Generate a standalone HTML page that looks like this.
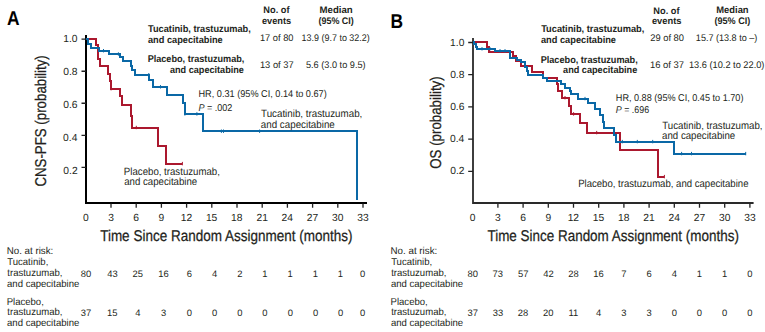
<!DOCTYPE html>
<html><head><meta charset="utf-8"><title>KM curves</title>
<style>
html,body{margin:0;padding:0;background:#fff;}
body{width:765px;height:332px;overflow:hidden;}
svg{display:block;font-family:"Liberation Sans",sans-serif;text-rendering:geometricPrecision;}
</style></head>
<body>
<svg width="765" height="332" viewBox="0 0 765 332">
<rect width="765" height="332" fill="#fff"/>
<path d="M86,35 V203 H367" fill="none" stroke="#000" stroke-width="2" stroke-linejoin="miter"/>
<path d="M473,38 V203 H753.6" fill="none" stroke="#2a2a2a" stroke-width="1.8" stroke-linejoin="miter"/>
<path d="M81.5,39.20 H86 M468.2,42.50 H473 M81.5,71.23 H86 M468.2,74.70 H473 M81.5,103.26 H86 M468.2,106.90 H473 M81.5,135.29 H86 M468.2,139.10 H473 M81.5,167.32 H86 M468.2,171.30 H473 M111.00,203.5 V207.8 M497.90,203.5 V207.8 M136.20,203.5 V207.8 M523.10,203.5 V207.8 M161.40,203.5 V207.8 M548.30,203.5 V207.8 M186.60,203.5 V207.8 M573.50,203.5 V207.8 M211.80,203.5 V207.8 M598.70,203.5 V207.8 M237.00,203.5 V207.8 M623.90,203.5 V207.8 M262.20,203.5 V207.8 M649.10,203.5 V207.8 M287.40,203.5 V207.8 M674.30,203.5 V207.8 M312.60,203.5 V207.8 M699.50,203.5 V207.8 M337.80,203.5 V207.8 M724.70,203.5 V207.8 M363.00,203.5 V207.8 M749.90,203.5 V207.8" fill="none" stroke="#222" stroke-width="1.3"/>
<path d="M86,39 H96 V45 H98 V59 H100 V66 H108 V74 H110 V81 H111 V89 H120 V96 H122 V105 H131 V116 H132 V128 H158 V146 H166 V164 H182" fill="none" stroke="#ab182e" stroke-width="2"/>
<path d="M111.1,87.0 V90.4 M136.3,125.8 V129.2 M182.4,161.9 V165.3" fill="none" stroke="#ab182e" stroke-width="1"/>
<path d="M86,39 H88 V44 H91 V48 H99 V51 H109 V54 H120 V57 H123 V61 H131 V66 H132 V70 H135 V75 H149 V80 H153 V87 H167 V95 H183 V103 H185 V114 H203 V131 H357 V200" fill="none" stroke="#0a68a6" stroke-width="2"/>
<path d="M103.5,49.0 V52.4 M118.4,52.3 V55.7 M148.8,73.0 V76.4 M160.5,85.1 V88.5 M184.9,112.2 V115.6 M196.9,112.2 V115.6 M221.4,129.5 V132.9 M223.5,129.5 V132.9 M259.6,129.5 V132.9" fill="none" stroke="#0a68a6" stroke-width="1"/>
<path d="M473,42 H487 V47 H489 V52 H513 V56 H516 V61 H521 V66 H532 V72 H543 V78 H557 V84 H558 V91 H562 V98 H569 V106 H571 V114 H580 V123 H587 V133 H620 V150 H658 V177 H664" fill="none" stroke="#ab182e" stroke-width="2"/>
<path d="M565,96.0 V99.4 M573.6,112.2 V115.6 M596.7,130.9 V134.3 M664.4,174.9 V178.3" fill="none" stroke="#ab182e" stroke-width="1"/>
<path d="M473,42 H474 V44 H476 V47 H477 V49 H495 V51 H510 V58 H517 V60 H521 V62 H525 V67 H527 V71 H528 V75 H543 V78 H547 V81 H561 V84 H565 V88 H570 V91 H571 V94 H578 V99 H588 V103 H595 V109 H600 V115 H603 V122 H604 V128 H614 V135 H616 V142 H674 V154 H746" fill="none" stroke="#0a68a6" stroke-width="2"/>
<path d="M482,47.1 V50.5 M490,47.1 V50.5 M500,49.1 V52.5 M505,49.1 V52.5 M585,96.9 V100.3 M622.3,139.9 V143.3 M637.3,139.9 V143.3 M652.7,139.9 V143.3 M681.6,151.9 V155.3 M691.5,151.9 V155.3 M745.7,151.9 V155.3" fill="none" stroke="#0a68a6" stroke-width="1"/>
<text x="7.01" y="24.60" font-size="20" font-weight="bold" fill="#000" textLength="12.59" lengthAdjust="spacingAndGlyphs">A</text>
<text x="390.39" y="28.00" font-size="20" font-weight="bold" fill="#000" textLength="12.55" lengthAdjust="spacingAndGlyphs">B</text>
<text x="263.33" y="13.40" font-size="9.6" font-weight="bold" fill="#231f20" textLength="26.20" lengthAdjust="spacingAndGlyphs">No. of</text>
<text x="261.89" y="23.50" font-size="9.6" font-weight="bold" fill="#231f20" textLength="29.24" lengthAdjust="spacingAndGlyphs">events</text>
<text x="319.50" y="13.40" font-size="9.6" font-weight="bold" fill="#231f20" textLength="33.24" lengthAdjust="spacingAndGlyphs">Median</text>
<text x="318.50" y="23.50" font-size="9.6" font-weight="bold" fill="#231f20" textLength="35.30" lengthAdjust="spacingAndGlyphs">(95% CI)</text>
<text x="653.33" y="13.60" font-size="9.6" font-weight="bold" fill="#231f20" textLength="26.20" lengthAdjust="spacingAndGlyphs">No. of</text>
<text x="651.89" y="23.80" font-size="9.6" font-weight="bold" fill="#231f20" textLength="29.65" lengthAdjust="spacingAndGlyphs">events</text>
<text x="716.22" y="13.40" font-size="9.6" font-weight="bold" fill="#231f20" textLength="32.41" lengthAdjust="spacingAndGlyphs">Median</text>
<text x="714.50" y="23.50" font-size="9.6" font-weight="bold" fill="#231f20" textLength="35.81" lengthAdjust="spacingAndGlyphs">(95% CI)</text>
<text x="148.05" y="31.90" font-size="9.8" font-weight="bold" fill="#231f20" textLength="102.72" lengthAdjust="spacingAndGlyphs">Tucatinib, trastuzumab,</text>
<text x="147.98" y="42.80" font-size="9.8" font-weight="bold" fill="#231f20" textLength="74.75" lengthAdjust="spacingAndGlyphs">and capecitabine</text>
<text x="147.64" y="62.20" font-size="9.8" font-weight="bold" fill="#231f20" textLength="96.72" lengthAdjust="spacingAndGlyphs">Placebo, trastuzumab,</text>
<text x="169.97" y="72.50" font-size="9.8" font-weight="bold" fill="#231f20" textLength="73.94" lengthAdjust="spacingAndGlyphs">and capecitabine</text>
<text x="541.15" y="32.40" font-size="9.8" font-weight="bold" fill="#231f20" textLength="103.12" lengthAdjust="spacingAndGlyphs">Tucatinib, trastuzumab,</text>
<text x="540.98" y="42.90" font-size="9.8" font-weight="bold" fill="#231f20" textLength="75.05" lengthAdjust="spacingAndGlyphs">and capecitabine</text>
<text x="540.64" y="63.00" font-size="9.8" font-weight="bold" fill="#231f20" textLength="97.12" lengthAdjust="spacingAndGlyphs">Placebo, trastuzumab,</text>
<text x="563.06" y="72.80" font-size="9.8" font-weight="bold" fill="#231f20" textLength="74.25" lengthAdjust="spacingAndGlyphs">and capecitabine</text>
<text x="259.94" y="41.00" font-size="9.6" fill="#231f20" textLength="33.57" lengthAdjust="spacingAndGlyphs">17 of 80</text>
<text x="301.57" y="40.90" font-size="9.6" fill="#231f20" textLength="68.24" lengthAdjust="spacingAndGlyphs">13.9 (9.7 to 32.2)</text>
<text x="259.94" y="67.60" font-size="9.6" fill="#231f20" textLength="33.68" lengthAdjust="spacingAndGlyphs">13 of 37</text>
<text x="305.98" y="67.60" font-size="9.6" fill="#231f20" textLength="59.63" lengthAdjust="spacingAndGlyphs">5.6 (3.0 to 9.5)</text>
<text x="650.18" y="41.00" font-size="9.6" fill="#231f20" textLength="33.84" lengthAdjust="spacingAndGlyphs">29 of 80</text>
<text x="695.86" y="40.80" font-size="9.6" fill="#231f20" textLength="61.45" lengthAdjust="spacingAndGlyphs">15.7 (13.8 to –)</text>
<text x="649.93" y="68.10" font-size="9.6" fill="#231f20" textLength="34.19" lengthAdjust="spacingAndGlyphs">16 of 37</text>
<text x="688.95" y="68.00" font-size="9.6" fill="#231f20" textLength="75.48" lengthAdjust="spacingAndGlyphs">13.6 (10.2 to 22.0)</text>
<text x="198.50" y="97.30" font-size="9.9" fill="#231f20" textLength="128.22" lengthAdjust="spacingAndGlyphs">HR, 0.31 (95% CI, 0.14 to 0.67)</text>
<text x="198.51" y="110.90" font-size="9.9" fill="#231f20" textLength="33.90" lengthAdjust="spacingAndGlyphs"><tspan font-style="italic">P</tspan> = .002</text>
<text x="615.80" y="101.00" font-size="9.9" fill="#231f20" textLength="127.62" lengthAdjust="spacingAndGlyphs">HR, 0.88 (95% CI, 0.45 to 1.70)</text>
<text x="615.82" y="113.10" font-size="9.9" fill="#231f20" textLength="33.32" lengthAdjust="spacingAndGlyphs"><tspan font-style="italic">P</tspan> = .696</text>
<text x="261.03" y="116.50" font-size="10.5" fill="#231f20" textLength="101.29" lengthAdjust="spacingAndGlyphs">Tucatinib, trastuzumab,</text>
<text x="260.84" y="127.50" font-size="10.5" fill="#231f20" textLength="73.95" lengthAdjust="spacingAndGlyphs">and capecitabine</text>
<text x="123.86" y="174.90" font-size="10.5" fill="#231f20" textLength="96.06" lengthAdjust="spacingAndGlyphs">Placebo, trastuzumab,</text>
<text x="124.24" y="185.30" font-size="10.5" fill="#231f20" textLength="73.00" lengthAdjust="spacingAndGlyphs">and capecitabine</text>
<text x="662.24" y="128.50" font-size="10.5" fill="#231f20" textLength="100.28" lengthAdjust="spacingAndGlyphs">Tucatinib, trastuzumab,</text>
<text x="662.04" y="138.70" font-size="10.5" fill="#231f20" textLength="73.22" lengthAdjust="spacingAndGlyphs">and capecitabine</text>
<text x="578.16" y="187.40" font-size="10.5" fill="#231f20" textLength="170.31" lengthAdjust="spacingAndGlyphs">Placebo, trastuzumab, and capecitabine</text>
<text x="100.15" y="241.00" font-size="15.6" fill="#231f20" stroke="#231f20" stroke-width="0.25" textLength="252.24" lengthAdjust="spacingAndGlyphs">Time Since Random Assignment (months)</text>
<text x="487.45" y="241.00" font-size="15.6" fill="#231f20" stroke="#231f20" stroke-width="0.25" textLength="251.44" lengthAdjust="spacingAndGlyphs">Time Since Random Assignment (months)</text>
<text transform="translate(45.60,186.20) rotate(-90)" x="-0.43" y="0" font-size="15.6" fill="#231f20" stroke="#231f20" stroke-width="0.25" textLength="131.40" lengthAdjust="spacingAndGlyphs">CNS-PFS (probability)</text>
<text transform="translate(441.00,168.40) rotate(-90)" x="-0.38" y="0" font-size="15.6" fill="#231f20" stroke="#231f20" stroke-width="0.25" textLength="92.45" lengthAdjust="spacingAndGlyphs">OS (probability)</text>
<text x="63.18" y="42.10" font-size="10.3" fill="#231f20" textLength="14.32" lengthAdjust="spacingAndGlyphs">1.0</text>
<text x="450.08" y="46.00" font-size="10.3" fill="#231f20" textLength="14.32" lengthAdjust="spacingAndGlyphs">1.0</text>
<text x="63.23" y="75.05" font-size="10.3" fill="#231f20" textLength="14.32" lengthAdjust="spacingAndGlyphs">0.8</text>
<text x="450.13" y="78.05" font-size="10.3" fill="#231f20" textLength="14.32" lengthAdjust="spacingAndGlyphs">0.8</text>
<text x="63.24" y="108.00" font-size="10.3" fill="#231f20" textLength="14.32" lengthAdjust="spacingAndGlyphs">0.6</text>
<text x="450.14" y="110.10" font-size="10.3" fill="#231f20" textLength="14.32" lengthAdjust="spacingAndGlyphs">0.6</text>
<text x="63.08" y="140.95" font-size="10.3" fill="#231f20" textLength="14.32" lengthAdjust="spacingAndGlyphs">0.4</text>
<text x="449.98" y="142.15" font-size="10.3" fill="#231f20" textLength="14.32" lengthAdjust="spacingAndGlyphs">0.4</text>
<text x="63.30" y="173.90" font-size="10.3" fill="#231f20" textLength="14.32" lengthAdjust="spacingAndGlyphs">0.2</text>
<text x="450.20" y="174.20" font-size="10.3" fill="#231f20" textLength="14.32" lengthAdjust="spacingAndGlyphs">0.2</text>
<text x="82.94" y="221.00" font-size="10.3" fill="#231f20" textLength="5.73" lengthAdjust="spacingAndGlyphs">0</text>
<text x="469.84" y="221.00" font-size="10.3" fill="#231f20" textLength="5.73" lengthAdjust="spacingAndGlyphs">0</text>
<text x="108.17" y="221.00" font-size="10.3" fill="#231f20" textLength="5.73" lengthAdjust="spacingAndGlyphs">3</text>
<text x="495.07" y="221.00" font-size="10.3" fill="#231f20" textLength="5.73" lengthAdjust="spacingAndGlyphs">3</text>
<text x="133.30" y="221.00" font-size="10.3" fill="#231f20" textLength="5.73" lengthAdjust="spacingAndGlyphs">6</text>
<text x="520.20" y="221.00" font-size="10.3" fill="#231f20" textLength="5.73" lengthAdjust="spacingAndGlyphs">6</text>
<text x="158.54" y="221.00" font-size="10.3" fill="#231f20" textLength="5.73" lengthAdjust="spacingAndGlyphs">9</text>
<text x="545.44" y="221.00" font-size="10.3" fill="#231f20" textLength="5.73" lengthAdjust="spacingAndGlyphs">9</text>
<text x="180.74" y="221.00" font-size="10.3" fill="#231f20" textLength="11.46" lengthAdjust="spacingAndGlyphs">12</text>
<text x="567.64" y="221.00" font-size="10.3" fill="#231f20" textLength="11.46" lengthAdjust="spacingAndGlyphs">12</text>
<text x="205.90" y="221.00" font-size="10.3" fill="#231f20" textLength="11.46" lengthAdjust="spacingAndGlyphs">15</text>
<text x="592.80" y="221.00" font-size="10.3" fill="#231f20" textLength="11.46" lengthAdjust="spacingAndGlyphs">15</text>
<text x="231.10" y="221.00" font-size="10.3" fill="#231f20" textLength="11.46" lengthAdjust="spacingAndGlyphs">18</text>
<text x="618.00" y="221.00" font-size="10.3" fill="#231f20" textLength="11.46" lengthAdjust="spacingAndGlyphs">18</text>
<text x="256.47" y="221.00" font-size="10.3" fill="#231f20" textLength="11.46" lengthAdjust="spacingAndGlyphs">21</text>
<text x="643.37" y="221.00" font-size="10.3" fill="#231f20" textLength="11.46" lengthAdjust="spacingAndGlyphs">21</text>
<text x="281.57" y="221.00" font-size="10.3" fill="#231f20" textLength="11.46" lengthAdjust="spacingAndGlyphs">24</text>
<text x="668.47" y="221.00" font-size="10.3" fill="#231f20" textLength="11.46" lengthAdjust="spacingAndGlyphs">24</text>
<text x="306.87" y="221.00" font-size="10.3" fill="#231f20" textLength="11.46" lengthAdjust="spacingAndGlyphs">27</text>
<text x="693.77" y="221.00" font-size="10.3" fill="#231f20" textLength="11.46" lengthAdjust="spacingAndGlyphs">27</text>
<text x="332.08" y="221.00" font-size="10.3" fill="#231f20" textLength="11.46" lengthAdjust="spacingAndGlyphs">30</text>
<text x="718.98" y="221.00" font-size="10.3" fill="#231f20" textLength="11.46" lengthAdjust="spacingAndGlyphs">30</text>
<text x="357.30" y="221.00" font-size="10.3" fill="#231f20" textLength="11.46" lengthAdjust="spacingAndGlyphs">33</text>
<text x="744.20" y="221.00" font-size="10.3" fill="#231f20" textLength="11.46" lengthAdjust="spacingAndGlyphs">33</text>
<text x="6.65" y="254.30" font-size="10" fill="#231f20" textLength="46.69" lengthAdjust="spacingAndGlyphs">No. at risk:</text>
<text x="7.05" y="287.00" font-size="10" fill="#231f20" textLength="72.23" lengthAdjust="spacingAndGlyphs">and capecitabine</text>
<text x="7.24" y="265.30" font-size="10" fill="#231f20" textLength="41.06" lengthAdjust="spacingAndGlyphs">Tucatinib,</text>
<text x="7.31" y="276.10" font-size="10" fill="#231f20" textLength="55.21" lengthAdjust="spacingAndGlyphs">trastuzumab,</text>
<text x="6.67" y="304.60" font-size="10" fill="#231f20" textLength="37.17" lengthAdjust="spacingAndGlyphs">Placebo,</text>
<text x="7.31" y="315.10" font-size="10" fill="#231f20" textLength="55.21" lengthAdjust="spacingAndGlyphs">trastuzumab,</text>
<text x="7.05" y="325.60" font-size="10" fill="#231f20" textLength="72.23" lengthAdjust="spacingAndGlyphs">and capecitabine</text>
<text x="390.55" y="254.30" font-size="10" fill="#231f20" textLength="46.69" lengthAdjust="spacingAndGlyphs">No. at risk:</text>
<text x="390.95" y="287.00" font-size="10" fill="#231f20" textLength="72.23" lengthAdjust="spacingAndGlyphs">and capecitabine</text>
<text x="391.14" y="265.30" font-size="10" fill="#231f20" textLength="41.06" lengthAdjust="spacingAndGlyphs">Tucatinib,</text>
<text x="391.21" y="276.10" font-size="10" fill="#231f20" textLength="55.21" lengthAdjust="spacingAndGlyphs">trastuzumab,</text>
<text x="390.57" y="304.60" font-size="10" fill="#231f20" textLength="37.17" lengthAdjust="spacingAndGlyphs">Placebo,</text>
<text x="391.21" y="315.10" font-size="10" fill="#231f20" textLength="55.21" lengthAdjust="spacingAndGlyphs">trastuzumab,</text>
<text x="390.95" y="325.60" font-size="10" fill="#231f20" textLength="72.23" lengthAdjust="spacingAndGlyphs">and capecitabine</text>
<text x="80.75" y="276.80" font-size="9.4" fill="#231f20" textLength="10.46" lengthAdjust="spacingAndGlyphs">80</text>
<text x="80.83" y="315.60" font-size="9.4" fill="#231f20" textLength="10.46" lengthAdjust="spacingAndGlyphs">37</text>
<text x="107.17" y="276.80" font-size="9.4" fill="#231f20" textLength="10.46" lengthAdjust="spacingAndGlyphs">43</text>
<text x="106.91" y="315.60" font-size="9.4" fill="#231f20" textLength="10.46" lengthAdjust="spacingAndGlyphs">15</text>
<text x="132.64" y="276.80" font-size="9.4" fill="#231f20" textLength="10.46" lengthAdjust="spacingAndGlyphs">25</text>
<text x="135.32" y="315.60" font-size="9.4" fill="#231f20" textLength="5.23" lengthAdjust="spacingAndGlyphs">4</text>
<text x="158.22" y="276.80" font-size="9.4" fill="#231f20" textLength="10.46" lengthAdjust="spacingAndGlyphs">16</text>
<text x="161.01" y="315.60" font-size="9.4" fill="#231f20" textLength="5.23" lengthAdjust="spacingAndGlyphs">3</text>
<text x="186.85" y="276.80" font-size="9.4" fill="#231f20" textLength="5.23" lengthAdjust="spacingAndGlyphs">6</text>
<text x="186.89" y="315.60" font-size="9.4" fill="#231f20" textLength="5.23" lengthAdjust="spacingAndGlyphs">0</text>
<text x="212.12" y="276.80" font-size="9.4" fill="#231f20" textLength="5.23" lengthAdjust="spacingAndGlyphs">4</text>
<text x="212.09" y="315.60" font-size="9.4" fill="#231f20" textLength="5.23" lengthAdjust="spacingAndGlyphs">0</text>
<text x="237.39" y="276.80" font-size="9.4" fill="#231f20" textLength="5.23" lengthAdjust="spacingAndGlyphs">2</text>
<text x="237.39" y="315.60" font-size="9.4" fill="#231f20" textLength="5.23" lengthAdjust="spacingAndGlyphs">0</text>
<text x="262.26" y="276.80" font-size="9.4" fill="#231f20" textLength="5.23" lengthAdjust="spacingAndGlyphs">1</text>
<text x="262.39" y="315.60" font-size="9.4" fill="#231f20" textLength="5.23" lengthAdjust="spacingAndGlyphs">0</text>
<text x="287.56" y="276.80" font-size="9.4" fill="#231f20" textLength="5.23" lengthAdjust="spacingAndGlyphs">1</text>
<text x="287.69" y="315.60" font-size="9.4" fill="#231f20" textLength="5.23" lengthAdjust="spacingAndGlyphs">0</text>
<text x="312.86" y="276.80" font-size="9.4" fill="#231f20" textLength="5.23" lengthAdjust="spacingAndGlyphs">1</text>
<text x="312.99" y="315.60" font-size="9.4" fill="#231f20" textLength="5.23" lengthAdjust="spacingAndGlyphs">0</text>
<text x="337.86" y="276.80" font-size="9.4" fill="#231f20" textLength="5.23" lengthAdjust="spacingAndGlyphs">1</text>
<text x="337.99" y="315.60" font-size="9.4" fill="#231f20" textLength="5.23" lengthAdjust="spacingAndGlyphs">0</text>
<text x="359.99" y="276.80" font-size="9.4" fill="#231f20" textLength="5.23" lengthAdjust="spacingAndGlyphs">0</text>
<text x="359.99" y="315.60" font-size="9.4" fill="#231f20" textLength="5.23" lengthAdjust="spacingAndGlyphs">0</text>
<text x="467.45" y="276.80" font-size="9.4" fill="#231f20" textLength="10.46" lengthAdjust="spacingAndGlyphs">80</text>
<text x="467.53" y="315.60" font-size="9.4" fill="#231f20" textLength="10.46" lengthAdjust="spacingAndGlyphs">37</text>
<text x="492.64" y="276.80" font-size="9.4" fill="#231f20" textLength="10.46" lengthAdjust="spacingAndGlyphs">73</text>
<text x="492.70" y="315.60" font-size="9.4" fill="#231f20" textLength="10.46" lengthAdjust="spacingAndGlyphs">33</text>
<text x="517.92" y="276.80" font-size="9.4" fill="#231f20" textLength="10.46" lengthAdjust="spacingAndGlyphs">57</text>
<text x="517.84" y="315.60" font-size="9.4" fill="#231f20" textLength="10.46" lengthAdjust="spacingAndGlyphs">28</text>
<text x="543.20" y="276.80" font-size="9.4" fill="#231f20" textLength="10.46" lengthAdjust="spacingAndGlyphs">42</text>
<text x="543.02" y="315.60" font-size="9.4" fill="#231f20" textLength="10.46" lengthAdjust="spacingAndGlyphs">20</text>
<text x="568.24" y="276.80" font-size="9.4" fill="#231f20" textLength="10.46" lengthAdjust="spacingAndGlyphs">28</text>
<text x="568.49" y="315.60" font-size="9.4" fill="#231f20" textLength="9.76" lengthAdjust="spacingAndGlyphs">11</text>
<text x="593.32" y="276.80" font-size="9.4" fill="#231f20" textLength="10.46" lengthAdjust="spacingAndGlyphs">16</text>
<text x="596.12" y="315.60" font-size="9.4" fill="#231f20" textLength="5.23" lengthAdjust="spacingAndGlyphs">4</text>
<text x="621.28" y="276.80" font-size="9.4" fill="#231f20" textLength="5.23" lengthAdjust="spacingAndGlyphs">7</text>
<text x="621.31" y="315.60" font-size="9.4" fill="#231f20" textLength="5.23" lengthAdjust="spacingAndGlyphs">3</text>
<text x="646.45" y="276.80" font-size="9.4" fill="#231f20" textLength="5.23" lengthAdjust="spacingAndGlyphs">6</text>
<text x="646.51" y="315.60" font-size="9.4" fill="#231f20" textLength="5.23" lengthAdjust="spacingAndGlyphs">3</text>
<text x="671.72" y="276.80" font-size="9.4" fill="#231f20" textLength="5.23" lengthAdjust="spacingAndGlyphs">4</text>
<text x="671.69" y="315.60" font-size="9.4" fill="#231f20" textLength="5.23" lengthAdjust="spacingAndGlyphs">0</text>
<text x="696.76" y="276.80" font-size="9.4" fill="#231f20" textLength="5.23" lengthAdjust="spacingAndGlyphs">1</text>
<text x="696.89" y="315.60" font-size="9.4" fill="#231f20" textLength="5.23" lengthAdjust="spacingAndGlyphs">0</text>
<text x="721.96" y="276.80" font-size="9.4" fill="#231f20" textLength="5.23" lengthAdjust="spacingAndGlyphs">1</text>
<text x="722.09" y="315.60" font-size="9.4" fill="#231f20" textLength="5.23" lengthAdjust="spacingAndGlyphs">0</text>
<text x="747.29" y="276.80" font-size="9.4" fill="#231f20" textLength="5.23" lengthAdjust="spacingAndGlyphs">0</text>
<text x="747.29" y="315.60" font-size="9.4" fill="#231f20" textLength="5.23" lengthAdjust="spacingAndGlyphs">0</text>
</svg>
</body></html>
